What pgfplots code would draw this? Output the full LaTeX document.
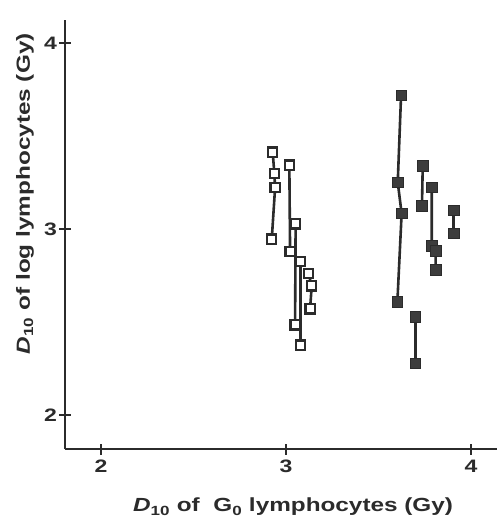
\documentclass[border=0pt]{standalone}
\usepackage{pgfplots}
\pgfplotsset{compat=1.18}
\usepackage{fontspec}
\setmainfont{Liberation Sans}[FakeStretch=1.28]
\definecolor{ink}{HTML}{2B2B2B}

\begin{document}
\begin{tikzpicture}
\begin{axis}[
    scale only axis,
    width=432pt, height=429pt,
    xmin=1.8054, xmax=4.1405,
    ymin=1.8172, ymax=4.1237,
    axis lines*=left,
    axis line style={line width=2.6pt, ink},
    xtick={2,3,4}, ytick={2,3,4},
    tick align=center,
    major tick length=11pt,
    tick style={line width=2pt, ink},
    /pgf/number format/assume math mode=true,
    ticklabel style={font=\fontsize{18}{21}\selectfont\bfseries, text=ink},
    xticklabel style={yshift=-2pt},
    yticklabel style={xshift=1pt},
    label style={font=\fontsize{19}{22}\selectfont\bfseries, text=ink},
    xlabel={\textit{D}\textsubscript{10} of\ \ G\textsubscript{0} lymphocytes (Gy)},
    ylabel={\textit{D}\textsubscript{10} of log lymphocytes (Gy)},
    xlabel style={at={(axis description cs:0.528,-0.135)}, anchor=center},
    ylabel style={at={(axis description cs:-0.0926,0.595)}, anchor=center, rotate=0},
    clip=false,
]
\pgfplotsset{op/.style={ink, line width=2.6pt, mark=square*, mark size=4.6pt,
    mark options={fill=white, draw=ink, line width=2.2pt}}}
\pgfplotsset{fp/.style={ink, line width=2.6pt, mark=square*, mark size=5.2pt,
    mark options={fill=ink!92, draw=ink, line width=0.6pt}}}
% open squares
\addplot[op] coordinates {(2.928,3.413) (2.937,3.299) (2.941,3.222) (2.923,2.946)};
\addplot[op] coordinates {(3.018,3.344) (3.022,2.878)};
\addplot[op] coordinates {(3.052,3.027) (3.049,2.484)};
\addplot[op] coordinates {(3.079,2.824) (3.079,2.376)};
\addplot[op] coordinates {(3.121,2.762) (3.139,2.694) (3.130,2.570)};
% filled squares
\addplot[fp] coordinates {(3.622,3.720) (3.604,3.251) (3.625,3.084) (3.602,2.609)};
\addplot[fp] coordinates {(3.739,3.339) (3.735,3.125)};
\addplot[fp] coordinates {(3.788,3.224) (3.788,2.910) (3.809,2.883) (3.809,2.780)};
\addplot[fp] coordinates {(3.906,3.102) (3.906,2.977)};
\addplot[fp] coordinates {(3.699,2.528) (3.699,2.278)};
\end{axis}
\pgfresetboundingbox
\path[use as bounding box] (-65pt,-70pt) rectangle (435pt,449pt);
\end{tikzpicture}
\end{document}
